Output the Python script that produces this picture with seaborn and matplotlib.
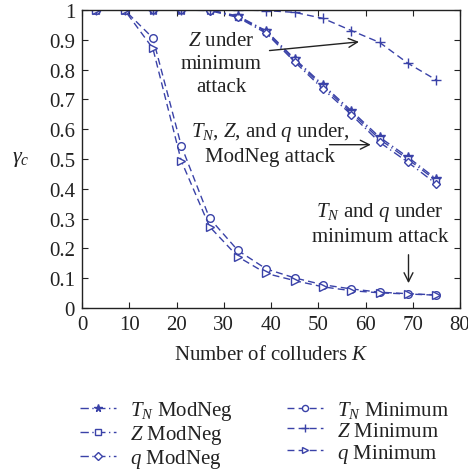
import numpy as np
import pandas as pd
import seaborn as sns
import matplotlib
matplotlib.use("Agg")
import matplotlib.pyplot as plt

# Number of colluders
K = [3, 9, 15, 21, 27, 33, 39, 45, 51, 57, 63, 69, 75]

# Detection probability under the ModNeg attack
tn_modneg = [1.0, 1.0, 1.0, 1.0, 1.0, 0.98, 0.93, 0.836, 0.749, 0.662, 0.573, 0.506, 0.433]
z_modneg = [1.0, 1.0, 1.0, 1.0, 1.0, 0.978, 0.927, 0.832, 0.743, 0.656, 0.566, 0.499, 0.427]
q_modneg = [1.0, 1.0, 1.0, 1.0, 0.998, 0.975, 0.922, 0.826, 0.735, 0.649, 0.556, 0.489, 0.416]

# Detection probability under the minimum attack
tn_min = [1.0, 1.0, 0.906, 0.545, 0.301, 0.193, 0.131, 0.101, 0.078, 0.064, 0.053, 0.048, 0.044]
z_min = [1.0, 1.0, 1.0, 1.0, 1.0, 1.0, 0.998, 0.992, 0.972, 0.931, 0.891, 0.821, 0.765]
q_min = [1.0, 1.0, 0.871, 0.494, 0.273, 0.172, 0.116, 0.092, 0.071, 0.058, 0.051, 0.047, 0.043]

labels = [r"$T_N$ ModNeg", r"$Z$ ModNeg", r"$q$ ModNeg",
          r"$T_N$ Minimum", r"$Z$ Minimum", r"$q$ Minimum"]
series = [tn_modneg, z_modneg, q_modneg, tn_min, z_min, q_min]
markers = ["*", "s", "D", "o", "+", ">"]
sizes = [7, 5, 4.5, 5.5, 7, 5.5]
filled = [True, False, False, False, True, False]
dashes = [(6, 2.5, 1, 2.5)] * 3 + [(5, 3)] * 3

sns.set_theme(style="ticks")
plt.rcParams["font.family"] = ["Liberation Serif", "DejaVu Serif"]
plt.rcParams["mathtext.fontset"] = "custom"
plt.rcParams["mathtext.rm"] = "Liberation Serif"
plt.rcParams["mathtext.it"] = "Liberation Serif:italic"

blue = "#3a42a8"
ink = "#222222"
fs = 15

df = pd.DataFrame({"K": K * 6,
                   "gamma": sum(series, []),
                   "label": sum([[l] * len(K) for l in labels], [])})

fig = plt.figure(figsize=(4.68, 4.77), dpi=100)
ax = fig.add_axes([82 / 468, 1 - 309 / 477, 378 / 468, 298 / 477])

for lab, mk, ms, fl, ds in zip(labels, markers, sizes, filled, dashes):
    sub = df[df["label"] == lab]
    sns.lineplot(data=sub, x="K", y="gamma", ax=ax, color=blue, lw=1.0,
                 marker=mk, markersize=ms, dashes=False, label=lab,
                 markerfacecolor=blue if fl else "white",
                 markeredgecolor=blue, markeredgewidth=1.0)
    ax.lines[-1].set_dashes(ds)

ax.set_xlim(0, 80)
ax.set_ylim(0, 1)
ax.set_xticks(np.arange(0, 81, 10))
ax.set_yticks(np.round(np.arange(0, 1.01, 0.1), 1))
ax.set_yticklabels(["0", "0.1", "0.2", "0.3", "0.4", "0.5", "0.6", "0.7",
                    "0.8", "0.9", "1"])
ax.tick_params(direction="in", top=True, right=True, length=4, width=0.8,
               labelsize=fs, colors=ink, pad=5)
for s in ax.spines.values():
    s.set_linewidth(1.0)
    s.set_color(ink)
ax.set_xlabel(r"Number of colluders $K$", fontsize=fs, color=ink, labelpad=8)
ax.set_ylabel(r"$\gamma_c$", fontsize=fs + 1, rotation=0, color=ink,
              labelpad=20, va="center")

txt_kw = dict(fontsize=fs, color=ink, ha="center", va="center",
              linespacing=1.3)
ax.text(29.4, 0.82, "$Z$ under\nminimum\nattack", **txt_kw)
ax.text(39.8, 0.555, "$T_N$, $Z$, and $q$ under,\nModNeg attack", **txt_kw)
ax.text(63.1, 0.285, "$T_N$ and $q$ under\nminimum attack", **txt_kw)

arr = dict(arrowstyle="->", color=ink, lw=1.0, mutation_scale=16)
ax.annotate("", xy=(59.2, 0.894), xytext=(39.1, 0.863), arrowprops=arr)
ax.annotate("", xy=(61.7, 0.548), xytext=(51.8, 0.548), arrowprops=arr)
ax.annotate("", xy=(69.1, 0.074), xytext=(69.1, 0.188), arrowprops=arr)

h, l = ax.get_legend_handles_labels()
ax.get_legend().remove()
fig.legend(h, l, ncol=2, loc="upper left", bbox_to_anchor=(80 / 468, 1 - 400 / 477),
           frameon=False, fontsize=fs, handlelength=1.75, columnspacing=2.6,
           labelspacing=0.05, handletextpad=0.65, labelcolor=ink,
           borderpad=0, borderaxespad=0, markerscale=0.8)

fig.savefig("out.png", dpi=100)
